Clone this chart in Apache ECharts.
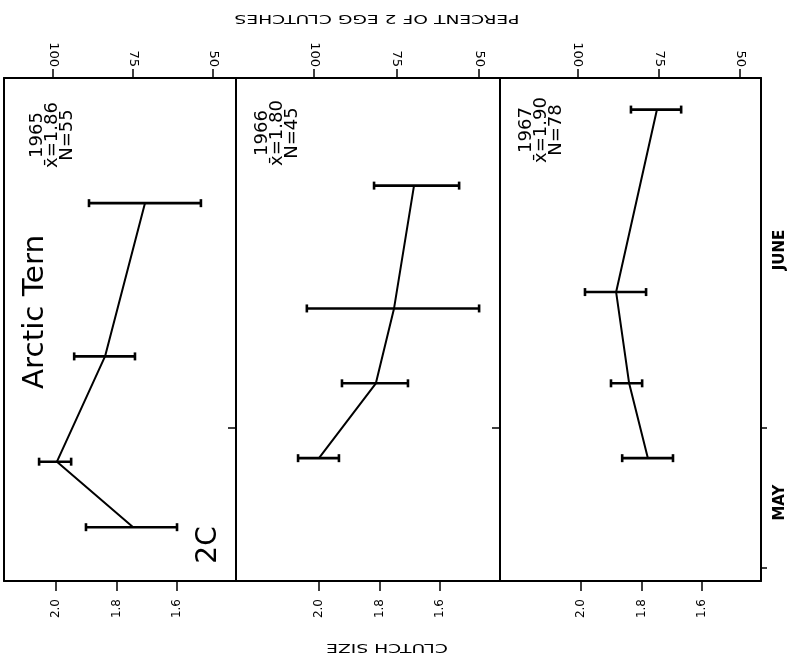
<!DOCTYPE html>
<html>
<head>
<meta charset="utf-8">
<title>Arctic Tern clutch size</title>
<script src="https://cdn.jsdelivr.net/npm/echarts@6/dist/echarts.min.js"></script>
<style>
  html, body { margin: 0; padding: 0; background: #fff; }
  #main { width: 788px; height: 658px; }
</style>
</head>
<body>
<div id="main"></div>
<script>
// day index along the season: May 1 = 1, June 1 = 32
const years = ['1965', '1966', '1967']
const meanLabels = ['1.86', '1.80', '1.90']
const countLabels = ['55', '45', '78']

// 1965
const days1965 = [23.5, 29.1, 38.1, 51.2]
const size1965 = [1.745, 1.997, 1.838, 1.706]
const low1965 = [1.600, 1.950, 1.739, 1.521]
const high1965 = [1.901, 2.056, 1.940, 1.891]

// 1966
const days1966 = [29.4, 35.8, 42.2, 52.7]
const size1966 = [2.0, 1.812, 1.752, 1.686]
const low1966 = [1.934, 1.706, 1.471, 1.537]
const high1966 = [2.069, 1.924, 2.040, 1.818]

// 1967
const days1967 = [29.4, 35.8, 43.6, 59.2]
const size1967 = [1.779, 1.841, 1.884, 1.749]
const low1967 = [1.696, 1.798, 1.785, 1.669]
const high1967 = [1.864, 1.901, 1.987, 1.835]

// axis ticks / labels
const clutchTicks = [1.6, 1.8, 2.0]
const percentTicks = [50, 75, 100]
const monthLabels = ['MAY', 'JUNE']
const monthLabelDays = [25.6, 47.2]
const monthTickDays = [20, 32]

const panels = [
  { days: days1965, size: size1965, low: low1965, high: high1965 },
  { days: days1966, size: size1966, low: low1966, high: high1966 },
  { days: days1967, size: size1967, low: low1967, high: high1967 },
]

// layout of the three strips
const gridLeft = [4, 236, 500]
const gridWidth = [232, 264, 262]
const clutchMin = [1.405, 1.402, 1.405]
const clutchMax = [2.172, 2.274, 2.268]
const pctMin = [42.8, 43.6, 43.6]
const pctMax = [115.3, 123.6, 123.9]

const font = 'DejaVu Sans'
const black = '#000'
const axisLine = { show: true, lineStyle: { color: black, width: 2 } }
const tickLine = { color: black, width: 1.5 }

// error bar with end caps
const renderErrorBar = (params, api) => {
  const a = api.coord([api.value(1), api.value(0)])
  const b = api.coord([api.value(2), api.value(0)])
  const cap = 4
  const style = { stroke: black, lineWidth: 2.6 }
  return {
    type: 'group',
    children: [
      { type: 'line', shape: { x1: a[0], y1: a[1], x2: b[0], y2: b[1] }, style },
      { type: 'line', shape: { x1: a[0], y1: a[1] - cap, x2: a[0], y2: a[1] + cap }, style },
      { type: 'line', shape: { x1: b[0], y1: b[1] - cap, x2: b[0], y2: b[1] + cap }, style },
    ],
  }
}

const grid = gridLeft.map((l, i) => ({ left: l, width: gridWidth[i], top: 78, height: 503 }))

const xAxis = []
panels.forEach((p, i) => {
  xAxis.push({
    type: 'value',
    gridIndex: i,
    position: 'bottom',
    inverse: true,
    min: clutchMin[i],
    max: clutchMax[i],
    axisLine,
    splitLine: { show: false },
    axisTick: { show: true, customValues: clutchTicks, length: 10, lineStyle: tickLine },
    axisLabel: {
      customValues: clutchTicks,
      rotate: 90,
      formatter: (v) => v.toFixed(1),
      color: black,
      fontSize: 12,
      fontFamily: font,
      margin: 18,
    },
  })
})
panels.forEach((p, i) => {
  xAxis.push({
    type: 'value',
    gridIndex: i,
    position: 'top',
    inverse: true,
    min: pctMin[i],
    max: pctMax[i],
    axisLine,
    splitLine: { show: false },
    axisTick: { show: true, customValues: percentTicks, length: 9, lineStyle: tickLine },
    axisLabel: {
      customValues: percentTicks,
      rotate: 90,
      color: black,
      fontSize: 13,
      fontFamily: font,
      margin: 11,
    },
  })
})

const yAxis = panels.map((p, i) => ({
  type: 'value',
  gridIndex: i,
  position: 'left',
  min: 18.9,
  max: 61.9,
  axisLine,
  splitLine: { show: false },
  axisLabel: { show: false },
  axisTick: { show: i > 0, customValues: [32], length: 8, lineStyle: tickLine },
}))
yAxis.push({
  type: 'value',
  gridIndex: 2,
  position: 'right',
  min: 18.9,
  max: 61.9,
  axisLine,
  splitLine: { show: false },
  axisTick: { show: true, customValues: monthTickDays, length: 6, lineStyle: tickLine },
  axisLabel: {
    customValues: monthLabelDays,
    formatter: (v) => monthLabels[monthLabelDays.indexOf(v)],
    rotate: 90,
    color: black,
    fontSize: 15,
    fontWeight: 'bold',
    fontFamily: font,
    margin: 12,
  },
})

const series = []
panels.forEach((p, i) => {
  series.push({
    type: 'line',
    xAxisIndex: i,
    yAxisIndex: i,
    data: p.size.map((s, k) => [s, p.days[k]]),
    symbol: 'none',
    lineStyle: { color: black, width: 2 },
  })
  series.push({
    type: 'custom',
    xAxisIndex: i,
    yAxisIndex: i,
    data: p.days.map((d, k) => [d, p.low[k], p.high[k]]),
    encode: { x: [1, 2], y: 0 },
    renderItem: renderErrorBar,
  })
})

// rotated text helper
const label = (text, x, y, size, rotation, scaleX = 1, extra = {}) => ({
  type: 'text',
  x,
  y,
  rotation,
  scaleX,
  style: Object.assign({
    text,
    fill: black,
    font: `${size}px "${font}"`,
    textAlign: 'center',
    textVerticalAlign: 'middle',
    align: 'center',
    verticalAlign: 'middle',
  }, extra),
})

const annX = [52, 277, 541]
const annY = [135, 133, 130]
const graphic = years.map((y, i) =>
  label(`${y}\nx̄=${meanLabels[i]}\nN=${countLabels[i]}`, annX[i], annY[i], 18, Math.PI / 2, 1, { lineHeight: 15 }),
)
graphic.push(label('Arctic Tern', 36, 312, 28, Math.PI / 2, 1.05))
graphic.push(label('2C', 209, 545, 28, Math.PI / 2))
graphic.push(label('CLUTCH SIZE', 387, 647, 13, Math.PI, 1.44))
graphic.push(label('PERCENT OF 2 EGG CLUTCHES', 377, 18, 13, Math.PI, 1.44))

const chart = echarts.init(document.getElementById('main'))
chart.setOption({
  backgroundColor: '#fff',
  animation: false,
  grid,
  xAxis,
  yAxis,
  series,
  graphic,
})
</script>
</body>
</html>
